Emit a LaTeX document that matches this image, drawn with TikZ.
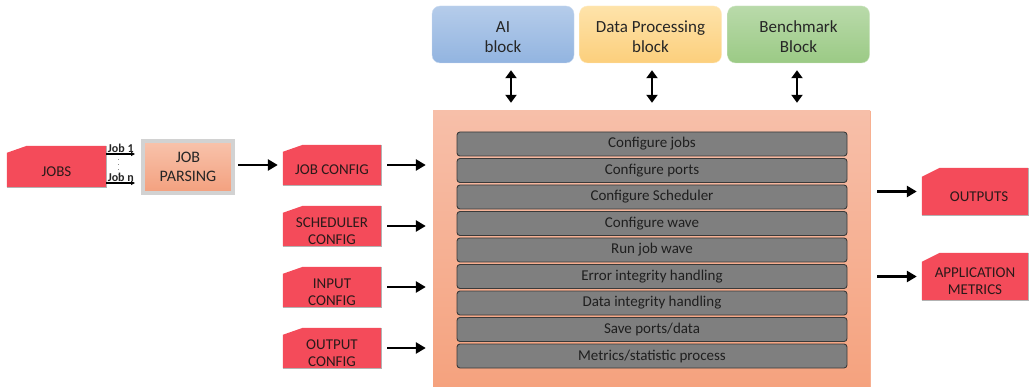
\documentclass[tikz,border=0pt]{standalone}
\usepackage{fontspec}
\setmainfont{Carlito}
\usetikzlibrary{arrows.meta,calc,backgrounds}

\definecolor{tabred}{HTML}{F44B5A}
\definecolor{tabtext}{HTML}{2B1A1A}
\definecolor{rowgray}{HTML}{7F7F7F}
\definecolor{rowedge}{HTML}{3A3A3A}
\definecolor{coretop}{HTML}{F7BFA9}
\definecolor{corebot}{HTML}{F5A27E}
\definecolor{parsetop}{HTML}{F8C3AC}
\definecolor{parsebot}{HTML}{F3A07E}
\definecolor{aitop}{HTML}{B5CCEA}
\definecolor{aibot}{HTML}{92B4E0}
\definecolor{dptop}{HTML}{FEE3AA}
\definecolor{dpbot}{HTML}{FCCF7C}
\definecolor{bmtop}{HTML}{B9DAAA}
\definecolor{bmbot}{HTML}{9BCA85}

% strut that sets tab labels a little below the tab's centre
\newcommand\tabstrut{\rule{0pt}{20pt}}

\tikzset{
  tab/.style={draw=none, inner sep=1pt, align=center, text=tabtext,
    font=\fontsize{15}{17}\selectfont},
  corebox/.style={top color=coretop, bottom color=corebot, draw=none},
  rowbox/.style={fill=rowgray, draw=rowedge, line width=0.9pt, rounded corners=3pt,
    minimum width=390pt, minimum height=24pt, inner sep=0pt, text=black!88,
    font=\fontsize{15}{17}\selectfont},
  topblock/.style={rounded corners=8pt, minimum width=142pt, minimum height=57pt,
    align=center, inner sep=0pt, text=black!85, font=\fontsize{17}{20}\selectfont},
  parsebox/.style={top color=parsetop, bottom color=parsebot, draw=gray!35,
    line width=4pt, minimum width=90pt, minimum height=52pt, align=center,
    text=black!85, font=\fontsize{16}{19}\selectfont},
  flow/.style={line width=2.8pt, -{Triangle[length=10pt,width=11pt]}},
  both/.style={line width=2.8pt, {Triangle[length=8pt,width=11pt]}-{Triangle[length=8pt,width=11pt]}},
  jobarrow/.style={line width=1.1pt, -{Triangle[length=4pt,width=4pt]}},
  joblabel/.style={font=\bfseries\fontsize{12}{13}\selectfont, inner sep=0.5pt, text=black!85}
}

% red tab with cut top-left corner
\newcommand\tabfill[3]{%
  \fill[tabred] (#1.south west) -- ([yshift=-#2pt]#1.north west)
    -- ([xshift=#3pt]#1.north west) -- (#1.north east) -- (#1.south east) -- cycle;
  \draw[black!30, line width=0.6pt] (#1.south west) -- (#1.south east) -- (#1.north east);}

\begin{document}
\begin{tikzpicture}[x=1pt,y=-1pt]
\useasboundingbox (0,0) rectangle (1030,387);

% central processing engine
\node[corebox, minimum width=437pt, minimum height=276pt, inner sep=0pt] (core) at (651.5,249) {};
\draw[corebot!85!white, line width=0.8pt] (core.north east) -- (core.south east);

\foreach \txt [count=\i from 0] in {Configure jobs, Configure ports, Configure Scheduler,
    Configure wave, Run job wave, Error integrity handling, Data integrity handling,
    Save ports/data, Metrics/statistic process}
  \node[rowbox] (row\i) at (652,{144+26.5*\i}) {\txt};

% auxiliary blocks
\node[topblock, top color=aitop, bottom color=aibot, draw=aitop!70!white] (ai) at (503,34.5) {\rule{0pt}{16pt}AI\\block};
\node[topblock, top color=dptop, bottom color=dpbot, draw=dptop!70!white] (dp) at (650.5,34.5) {\rule{0pt}{16pt}Data Processing\\block};
\node[topblock, top color=bmtop, bottom color=bmbot, draw=bmtop!70!white] (bm) at (798.5,34.5) {\rule{0pt}{16pt}Benchmark\\Block};

\draw[both, shorten <=7pt, shorten >=8pt] ([xshift=8pt]ai.south) -- ([xshift=8pt]ai.south |- core.north);
\draw[both, shorten <=7pt, shorten >=8pt] ([xshift=1.5pt]dp.south) -- ([xshift=1.5pt]dp.south |- core.north);
\draw[both, shorten <=7pt, shorten >=8pt] ([xshift=-1.5pt]bm.south) -- ([xshift=-1.5pt]bm.south |- core.north);

% job input and parsing
\node[tab, minimum width=99pt, minimum height=41pt] (jobs) at (56.5,166.5) {\tabstrut JOBS};
\node[parsebox] (parse) at (188,167) {JOB\\PARSING};

\draw[jobarrow, shorten >=6pt] ([yshift=12.5pt]jobs.east) -- ([yshift=12.5pt]jobs.east -| parse.west)
  node[joblabel, pos=0.42, above] {Job 1};
\draw[jobarrow, shorten >=6pt] ([yshift=-16.5pt]jobs.east) -- ([yshift=-16.5pt]jobs.east -| parse.west)
  node[joblabel, pos=0.42, above] {Job n};
\coordinate (dotstop) at ([xshift=12pt,yshift=7pt]jobs.east);
\coordinate (dotsbot) at ([xshift=12pt,yshift=-11pt]jobs.east);
\draw[black!45, line width=0.8pt, dash pattern=on 0.8pt off 4pt] (dotstop) -- (dotsbot);

% configuration inputs
\node[tab, minimum width=98pt, minimum height=40pt] (jobcfg) at (332,165) {\tabstrut JOB CONFIG};
\node[tab, minimum width=98pt, minimum height=40pt] (schedcfg) at (332,226) {\tabstrut SCHEDULER\\CONFIG};
\node[tab, minimum width=98pt, minimum height=40pt] (inputcfg) at (332,287) {\tabstrut INPUT\\CONFIG};
\node[tab, minimum width=98pt, minimum height=40pt] (outcfg) at (332,348) {\tabstrut OUTPUT\\CONFIG};

\draw[flow, shorten <=3pt, shorten >=5pt] (parse.east |- jobcfg) -- (jobcfg.west);
\foreach \n in {jobcfg, schedcfg, inputcfg, outcfg}
  \draw[flow, shorten <=6pt, shorten >=7pt] (\n.east) -- (\n.east -| core.west);

% results
\node[tab, minimum width=106pt, minimum height=47pt] (outputs) at (975,191.5) {\tabstrut\hspace*{8pt}OUTPUTS};
\node[tab, minimum width=106pt, minimum height=47pt] (appmet) at (975,276.5) {\tabstrut APPLICATION\\METRICS};

\draw[flow, shorten <=7pt, shorten >=5pt] (core.east |- outputs) -- (outputs.west);
\draw[flow, shorten <=7pt, shorten >=5pt] (core.east |- appmet) -- (appmet.west);

\begin{scope}[on background layer]
  \tabfill{jobs}{7}{20}
  \tabfill{jobcfg}{7}{20}
  \tabfill{schedcfg}{7}{20}
  \tabfill{inputcfg}{7}{20}
  \tabfill{outcfg}{7}{20}
  \tabfill{outputs}{9}{18}
  \tabfill{appmet}{9}{18}
\end{scope}
\end{tikzpicture}
\end{document}
